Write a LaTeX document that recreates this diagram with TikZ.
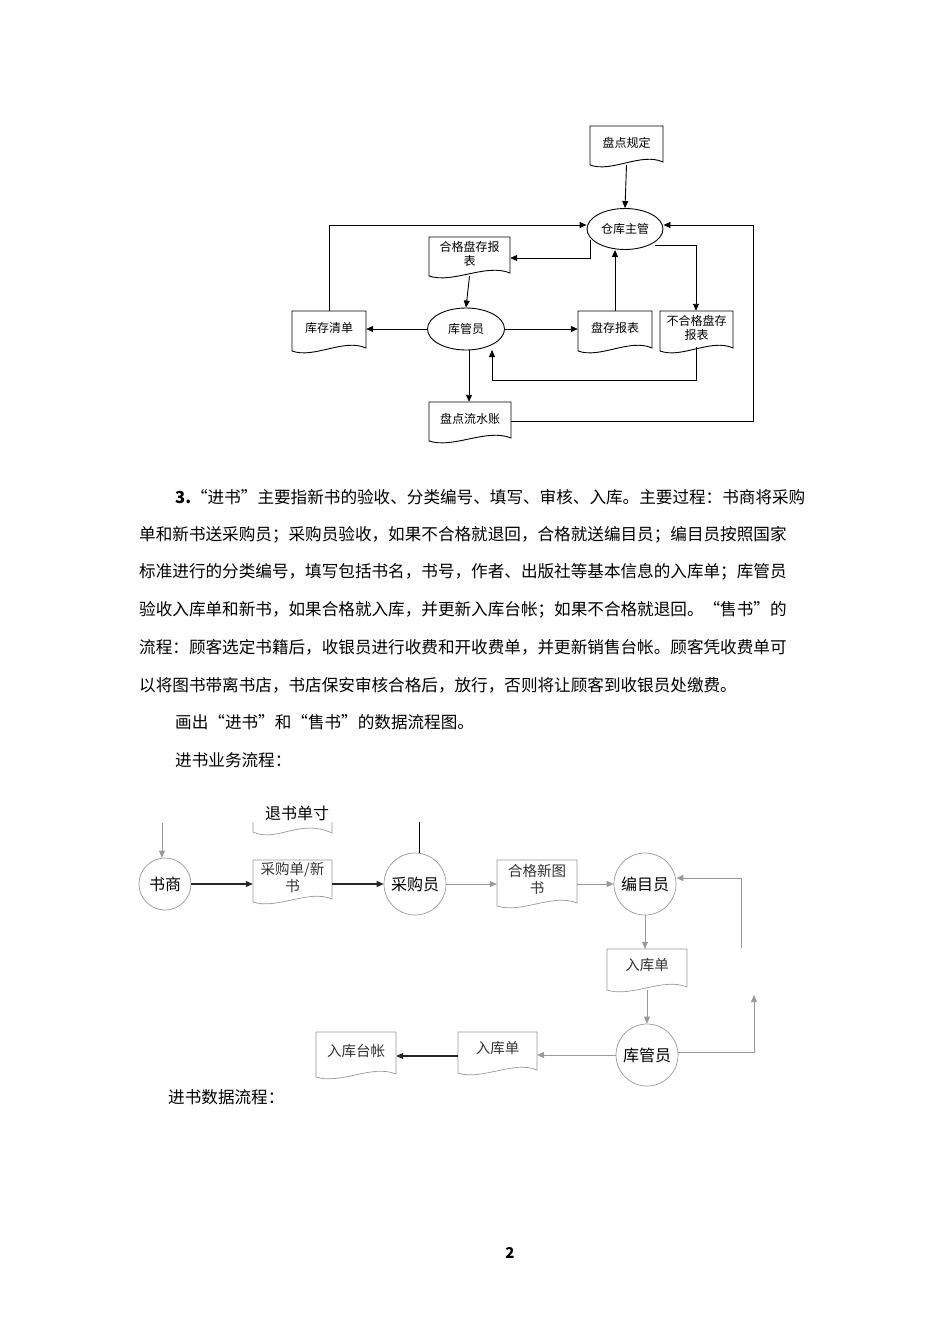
\documentclass[tikz,border=0pt]{standalone}
\usepackage{fontspec}
\setmainfont{Noto Sans CJK SC}
\usetikzlibrary{shapes.geometric,arrows.meta}
\newcommand\docnode[7]{% style, name, x1,y1,x2,y2, text
  \draw[#1] (#3,#4) -- (#5,#4) -- (#5,{#6-3}) .. controls ({#5-(#5-#3)*0.3},{#6-13}) and ({#3+(#5-#3)*0.3},{#6+8}) .. (#3,#6) -- cycle;
  \node[inner sep=0, minimum width={(#5-#3)*1pt}, minimum height={(#6-#4)*1pt}, align=center] (#2) at ({(#3+#5)/2},{(#4+#6)/2}) {};
  \node[align=center, font=\fontsize{12}{14}\selectfont] at ({(#3+#5)/2},{(#4+#6)/2-3}) {#7};
}
\tikzset{
  topl/.style={draw=black, line width=0.9pt},
  arr/.style={-{Triangle[length=7pt,width=6pt]}},
  bl/.style={draw=gray!80, line width=0.7pt},
  bthick/.style={draw=black!85, line width=1.1pt},
  para/.style={anchor=west, inner sep=0, font=\fontsize{16.6}{17}\selectfont},
  ell/.style={ellipse, draw, inner sep=0}
}
\begin{document}
\begin{tikzpicture}[x=1pt,y=-1pt]
\useasboundingbox[fill=white] (0,0) rectangle (950,1344);
% ---------- top diagram ----------
\docnode{topl}{gd}{590}{126}{663}{165}{盘点规定}
\node[ell, topl, minimum width=76pt, minimum height=41pt, font=\fontsize{12}{14}\selectfont] (zg) at (625,229) {仓库主管};
\docnode{topl}{hg}{429}{237}{510}{276}{合格盘存报\\表}
\node[ell, topl, minimum width=77pt, minimum height=42pt, font=\fontsize{12}{14}\selectfont] (kg) at (466,329) {库管员};
\docnode{topl}{qd}{292}{311}{366}{351}{库存清单}
\docnode{topl}{pc}{578}{311}{652}{351}{盘存报表}
\docnode{topl}{bh}{660}{311}{733}{351}{不合格盘存\\报表}
\docnode{topl}{ls}{429}{402}{511}{441}{盘点流水账}
\coordinate (c1) at (329,225);
\coordinate (c2) at (753,225);
\draw[topl,arr] (gd.south) -- (zg.north);
\draw[topl,arr] (qd.north -| c1) -- (c1) -- (zg.west |- c1);
\draw[topl,arr] (ls.east |- 0,421) -- (753,421) -- (c2) -- (zg.east |- c2);
\draw[topl,arr] (590,240) -- (590,258) -- (hg.east |- 0,258);
\draw[topl,arr] (hg.south) -- (kg.north);
\draw[topl,arr] (kg.east) -- (pc.west |- kg.east);
\draw[topl,arr] (pc.north -| 615,0) -- (zg.south -| 615,0);
\draw[topl,arr] (655,245) -- (696,245) -- (bh.north -| 696,0);
\draw[topl,arr] (696,347) -- (696,380) -- (492,380) -- (492,350);
\draw[topl,arr] (kg.west) -- (qd.east |- kg.west);
\draw[topl,arr] (kg.south -| 469,0) -- (ls.north -| 469,0);
% ---------- text ----------
\node[para] at (175,497) {\textbf{\textit{3.}}“进书”主要指新书的验收、分类编号、填写、审核、入库。主要过程：书商将采购};
\node[para] at (139,535) {单和新书送采购员；采购员验收，如果不合格就退回，合格就送编目员；编目员按照国家};
\node[para] at (139,572) {标准进行的分类编号，填写包括书名，书号，作者、出版社等基本信息的入库单；库管员};
\node[para] at (139,610) {验收入库单和新书，如果合格就入库，并更新入库台帐；如果不合格就退回。“售书”的};
\node[para] at (139,647) {流程：顾客选定书籍后，收银员进行收费和开收费单，并更新销售台帐。顾客凭收费单可};
\node[para] at (139,685) {以将图书带离书店，书店保安审核合格后，放行，否则将让顾客到收银员处缴费。};
\node[para] at (175,722) {画出“进书”和“售书”的数据流程图。};
\node[para] at (175,760) {进书业务流程：};
\node[para] at (168,1097) {进书数据流程：};
\node[font=\fontsize{15}{15}\selectfont\bfseries\itshape] (pg) at (510,1253) {2};
% ---------- bottom diagram ----------
\tikzset{circ/.style={circle, draw=gray!80, line width=0.7pt, inner sep=0, minimum size=62pt, font=\fontsize{16}{18}\selectfont}}
\node[circ, minimum size=52pt] (ss) at (165,884) {书商};
\node[circ] (cgy) at (415,884) {采购员};
\node[circ] (bmy) at (645,884) {编目员};
\node[circ] (kgy) at (647,1055) {库管员};
\coordinate (ssin) at (162,823);
\draw[bl,arr] (ssin) -- (ss.north -| ssin);
\coordinate (cgtop) at (419,822);
\draw[draw=black, line width=0.9pt] (cgtop) -- (cgy.north -| cgtop);
\node[font=\fontsize{16}{18}\selectfont] (ts) at (297,813) {退书单寸};
\draw[bl] (253,822) -- (253,832) .. controls (277,843) and (300,818) .. (332,833) -- (332,822);
\renewcommand\docnode[7]{%
  \draw[#1] (#3,#4) -- (#5,#4) -- (#5,{#6-3}) .. controls ({#5-(#5-#3)*0.3},{#6-13}) and ({#3+(#5-#3)*0.3},{#6+8}) .. (#3,#6) -- cycle;
  \node[inner sep=0, minimum width={(#5-#3)*1pt}, minimum height={(#6-#4)*1pt}, align=center] (#2) at ({(#3+#5)/2},{(#4+#6)/2}) {};
  \node[align=center, font=\fontsize{14.5}{17}\selectfont, text=black!80] at ({(#3+#5)/2},{(#4+#6)/2-4}) {#7};
}
\docnode{bl}{cgd}{253}{860}{332}{902}{采购单/新\\书}
\docnode{bl}{hgs}{497}{860}{577}{906}{合格新图\\书}
\docnode{bl}{rk1}{607}{949}{687}{990}{入库单}
\docnode{bl}{rk2}{458}{1032}{537}{1073}{入库单}
\docnode{bl}{rktz}{316}{1032}{396}{1077}{入库台帐}
\draw[bthick,arr] (ss.east) -- (cgd.west |- ss.east);
\draw[bthick,arr] (cgd.east |- 0,884) -- (cgy.west);
\draw[bl,arr] (cgy.east) -- (hgs.west |- cgy.east);
\draw[bl,arr] (hgs.east |- 0,884) -- (bmy.west);
\draw[bl,arr] (bmy.south) -- (rk1.north -| bmy.south);
\draw[bl,arr] (rk1.south -| kgy.north) -- (kgy.north);
\draw[bl,arr] (kgy.west) -- (rk2.east |- kgy.west);
\draw[bthick,arr] (rk2.west |- 0,1056) -- (rktz.east |- 0,1056);
\coordinate (fb1) at (754,1052);
\coordinate (fb2) at (754,995);
\draw[bl,arr] (kgy.east |- fb1) -- (fb1) -- (fb2);
\coordinate (fb3) at (741,948);
\coordinate (fb4) at (741,878);
\draw[bl,arr] (fb3) -- (fb4) -- (bmy.east |- fb4);
\end{tikzpicture}
\end{document}
